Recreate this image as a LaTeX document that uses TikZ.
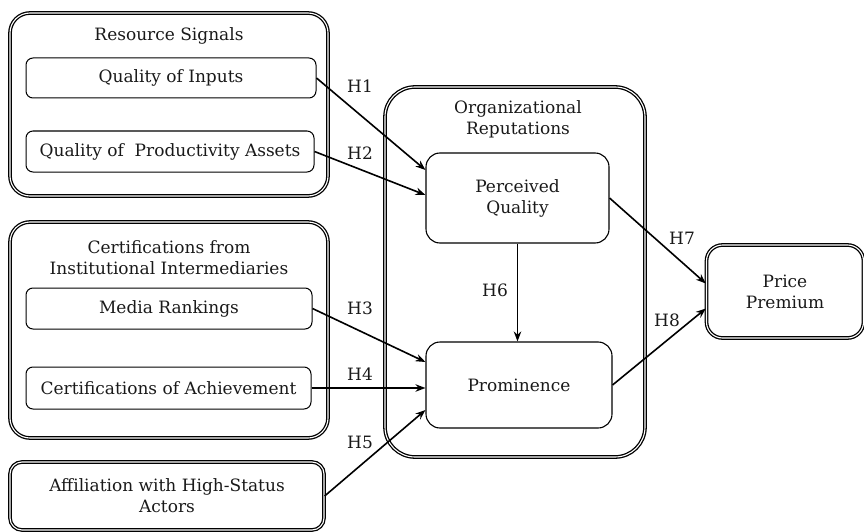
\documentclass[tikz,border=0pt]{standalone}
\usepackage{fontspec}
\setmainfont{DejaVu Serif}
\usetikzlibrary{arrows.meta,calc}
\begin{document}
\begin{tikzpicture}[x=1pt,y=-1pt,
  every node/.style={font=\fontsize{17}{21}\selectfont, align=center, inner sep=0pt, text=black!90},
  group/.style={draw, double, line width=1.3pt, double distance=1.1pt, rounded corners=20pt},
  item/.style={draw, line width=1pt, rounded corners=7pt},
  concept/.style={draw, line width=1.1pt, rounded corners=14pt},
  link/.style={line width=1.6pt, -{Stealth[length=10pt,width=7.5pt]}},
  hyp/.style={font=\fontsize{17}{21}\selectfont}
]
\useasboundingbox (0,0) rectangle (864,532);

% antecedent groups
\node[group, minimum width=318pt, minimum height=183pt] (rs) at (169,104.5) {};
\node (rstitle) at (169,36) {Resource Signals};
\node[item, minimum width=290pt, minimum height=40pt] (qi) at (171,78) {Quality of Inputs};
\node[item, minimum width=288pt, minimum height=41pt] (qpa) at (170,151.5) {Quality of \ Productivity Assets};

\node[group, minimum width=318pt, minimum height=216pt] (cert) at (169,330) {};
\node (certtitle) at (169,257.5) {Certifications from\\Institutional Intermediaries};
\node[item, minimum width=286pt, minimum height=41pt] (mr) at (169,308.5) {Media Rankings};
\node[item, minimum width=285pt, minimum height=42pt] (ca) at (168.5,388) {Certifications of Achievement};

\node[group, rounded corners=12pt, minimum width=314pt, minimum height=68pt] (aff) at (167,496) {Affiliation with High-Status\\Actors};

% reputations
\node[group, rounded corners=30pt, minimum width=260pt, minimum height=370pt] (org) at (515,272) {};
\node (orgtitle) at (518,119) {Organizational\\Reputations};
\node[concept, minimum width=183pt, minimum height=90pt] (pq) at (517.5,198) {Perceived\\Quality};
\node[concept, minimum width=186pt, minimum height=86pt] (pr) at (519,385) {Prominence};

% outcome
\node[group, rounded corners=16pt, minimum width=157pt, minimum height=93pt] (pp) at (785,291.5) {Price\\Premium};

% hypothesised paths
\draw[link] (qi.east) -- ($(pq.west)+(0,-28)$);
\draw[link] (qpa.east) -- ($(pq.west)+(0,-3)$);
\draw[link] (mr.east) -- ($(pr.west)+(0,-23)$);
\draw[link] (ca.east) -- (ca.east -| pr.west);
\draw[link] (aff.east) -- ($(pr.west)+(0,25)$);
\draw[link] (pq.south) -- (pq.south |- pr.north);
\draw[link] (pq.east) -- ($(pp.west)+(0,-8)$);
\draw[link] (pr.east) -- ($(pp.west)+(0,17)$);

\node[hyp] (h1) at (360,86) {H1};
\node[hyp] (h2) at (360,153) {H2};
\node[hyp] (h3) at (360,308) {H3};
\node[hyp] (h4) at (360,374) {H4};
\node[hyp] (h5) at (360,442) {H5};
\node[hyp] (h6) at (495,290) {H6};
\node[hyp] (h7) at (682,238) {H7};
\node[hyp] (h8) at (667,320) {H8};
\end{tikzpicture}
\end{document}
